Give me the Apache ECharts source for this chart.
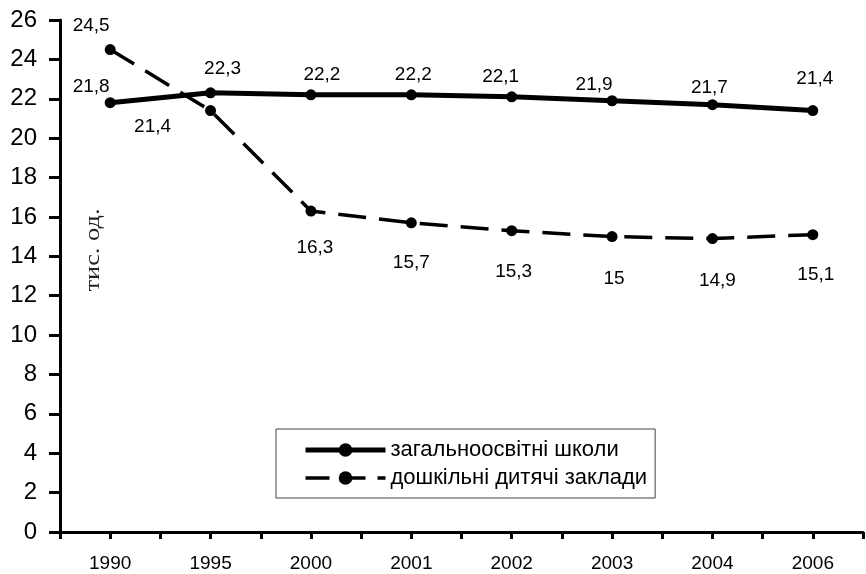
<!DOCTYPE html>
<html>
<head>
<meta charset="utf-8">
<script src="https://cdn.jsdelivr.net/npm/echarts@6/dist/echarts.min.js"></script>
<style>
html,body{margin:0;padding:0;background:#fff;}
#chart{width:866px;height:574px;}
</style>
</head>
<body>
<div id="chart"></div>
<script>
// ---- data ----
const years = ['1990', '1995', '2000', '2001', '2002', '2003', '2004', '2006'];
const schools = [21.8, 22.3, 22.2, 22.2, 22.1, 21.9, 21.7, 21.4];
const preschools = [24.5, 21.4, 16.3, 15.7, 15.3, 15, 14.9, 15.1];
const seriesNames = ['загальноосвітні школи', 'дошкільні дитячі заклади'];
const yTicks = { min: 0, max: 26, step: 2 };
const unitLabel = 'тис. од.';

// label placement (offset of label centre from point, px)
const schoolsLabelOffsets = [[-19, -16], [12, -24], [11, -20], [2, -20], [-11, -20], [-18, -16], [-3, -17], [2, -32]];
const preschoolsLabelOffsets = [[-19, -24], [-58, 16], [4, 37], [0, 40], [2, 41], [2, 42], [5, 42], [3, 40]];

const FONT = "'Liberation Sans', Arial, sans-serif";
const fmt = v => String(v).replace('.', ',');

function withLabels(values, offsets) {
  return values.map((v, i) => ({
    value: v,
    label: { offset: offsets[i] }
  }));
}

const chart = echarts.init(document.getElementById('chart'), null, { renderer: 'canvas' });
chart.setOption({
  animation: false,
  backgroundColor: '#ffffff',
  grid: { left: 60, right: 3, top: 20, bottom: 42, containLabel: false },
  xAxis: [
    {
      type: 'category',
      data: years,
      boundaryGap: true,
      axisLine: { show: false },
      axisTick: { show: false },
      splitLine: { show: false },
      axisLabel: { color: '#000', fontFamily: FONT, fontSize: 19, margin: 22 }
    },
    {
      type: 'value',
      min: 0, max: years.length * 2, interval: 1,
      position: 'bottom',
      axisLine: { show: true, lineStyle: { color: '#000', width: 3 } },
      axisTick: { show: true, length: 7, lineStyle: { color: '#000', width: 3 } },
      axisLabel: { show: false },
      splitLine: { show: false }
    }
  ],
  yAxis: {
    type: 'value',
    min: yTicks.min, max: yTicks.max, interval: yTicks.step,
    axisLine: { show: true, lineStyle: { color: '#000', width: 3 } },
    axisTick: { show: true, length: 11, lineStyle: { color: '#000', width: 3 } },
    splitLine: { show: false },
    axisLabel: { color: '#000', fontFamily: FONT, fontSize: 24, margin: 23 }
  },
  legend: {
    orient: 'vertical',
    left: 276, top: 429,
    padding: [10, 8, 9, 27],
    itemWidth: 80, itemHeight: 17, itemGap: 6,
    borderColor: '#444', borderWidth: 1, borderRadius: 0,
    backgroundColor: '#fff',
    textStyle: { color: '#000', fontFamily: FONT, fontSize: 22, lineHeight: 22 },
    data: [
      { name: seriesNames[0], lineStyle: { width: 5, color: '#000' } },
      { name: seriesNames[1], lineStyle: { width: 3.5, color: '#000', type: [24, 12] } }
    ]
  },
  graphic: [{
    type: 'text',
    x: 93, y: 250,
    rotation: Math.PI / 2,
    scaleX: 1.2,
    style: {
      text: unitLabel,
      fontFamily: "'Liberation Serif', 'Times New Roman', serif",
      fontSize: 22,
      fill: '#222',
      align: 'center',
      verticalAlign: 'middle'
    }
  }],
  series: [
    {
      name: seriesNames[0],
      type: 'line',
      xAxisIndex: 0,
      data: withLabels(schools, schoolsLabelOffsets),
      symbol: 'circle', symbolSize: 11,
      itemStyle: { color: '#000' },
      lineStyle: { color: '#000', width: 5 },
      label: {
        show: true, position: 'inside',
        color: '#000', fontFamily: FONT, fontSize: 19,
        align: 'center', verticalAlign: 'middle',
        formatter: p => fmt(p.value)
      },
      z: 3
    },
    {
      name: seriesNames[1],
      type: 'line',
      xAxisIndex: 0,
      data: withLabels(preschools, preschoolsLabelOffsets),
      symbol: 'circle', symbolSize: 11,
      itemStyle: { color: '#000' },
      lineStyle: { color: '#000', width: 3.5, type: [28, 13] },
      label: {
        show: true, position: 'inside',
        color: '#000', fontFamily: FONT, fontSize: 19,
        align: 'center', verticalAlign: 'middle',
        formatter: p => fmt(p.value)
      },
      z: 2
    }
  ]
});
</script>
</body>
</html>
